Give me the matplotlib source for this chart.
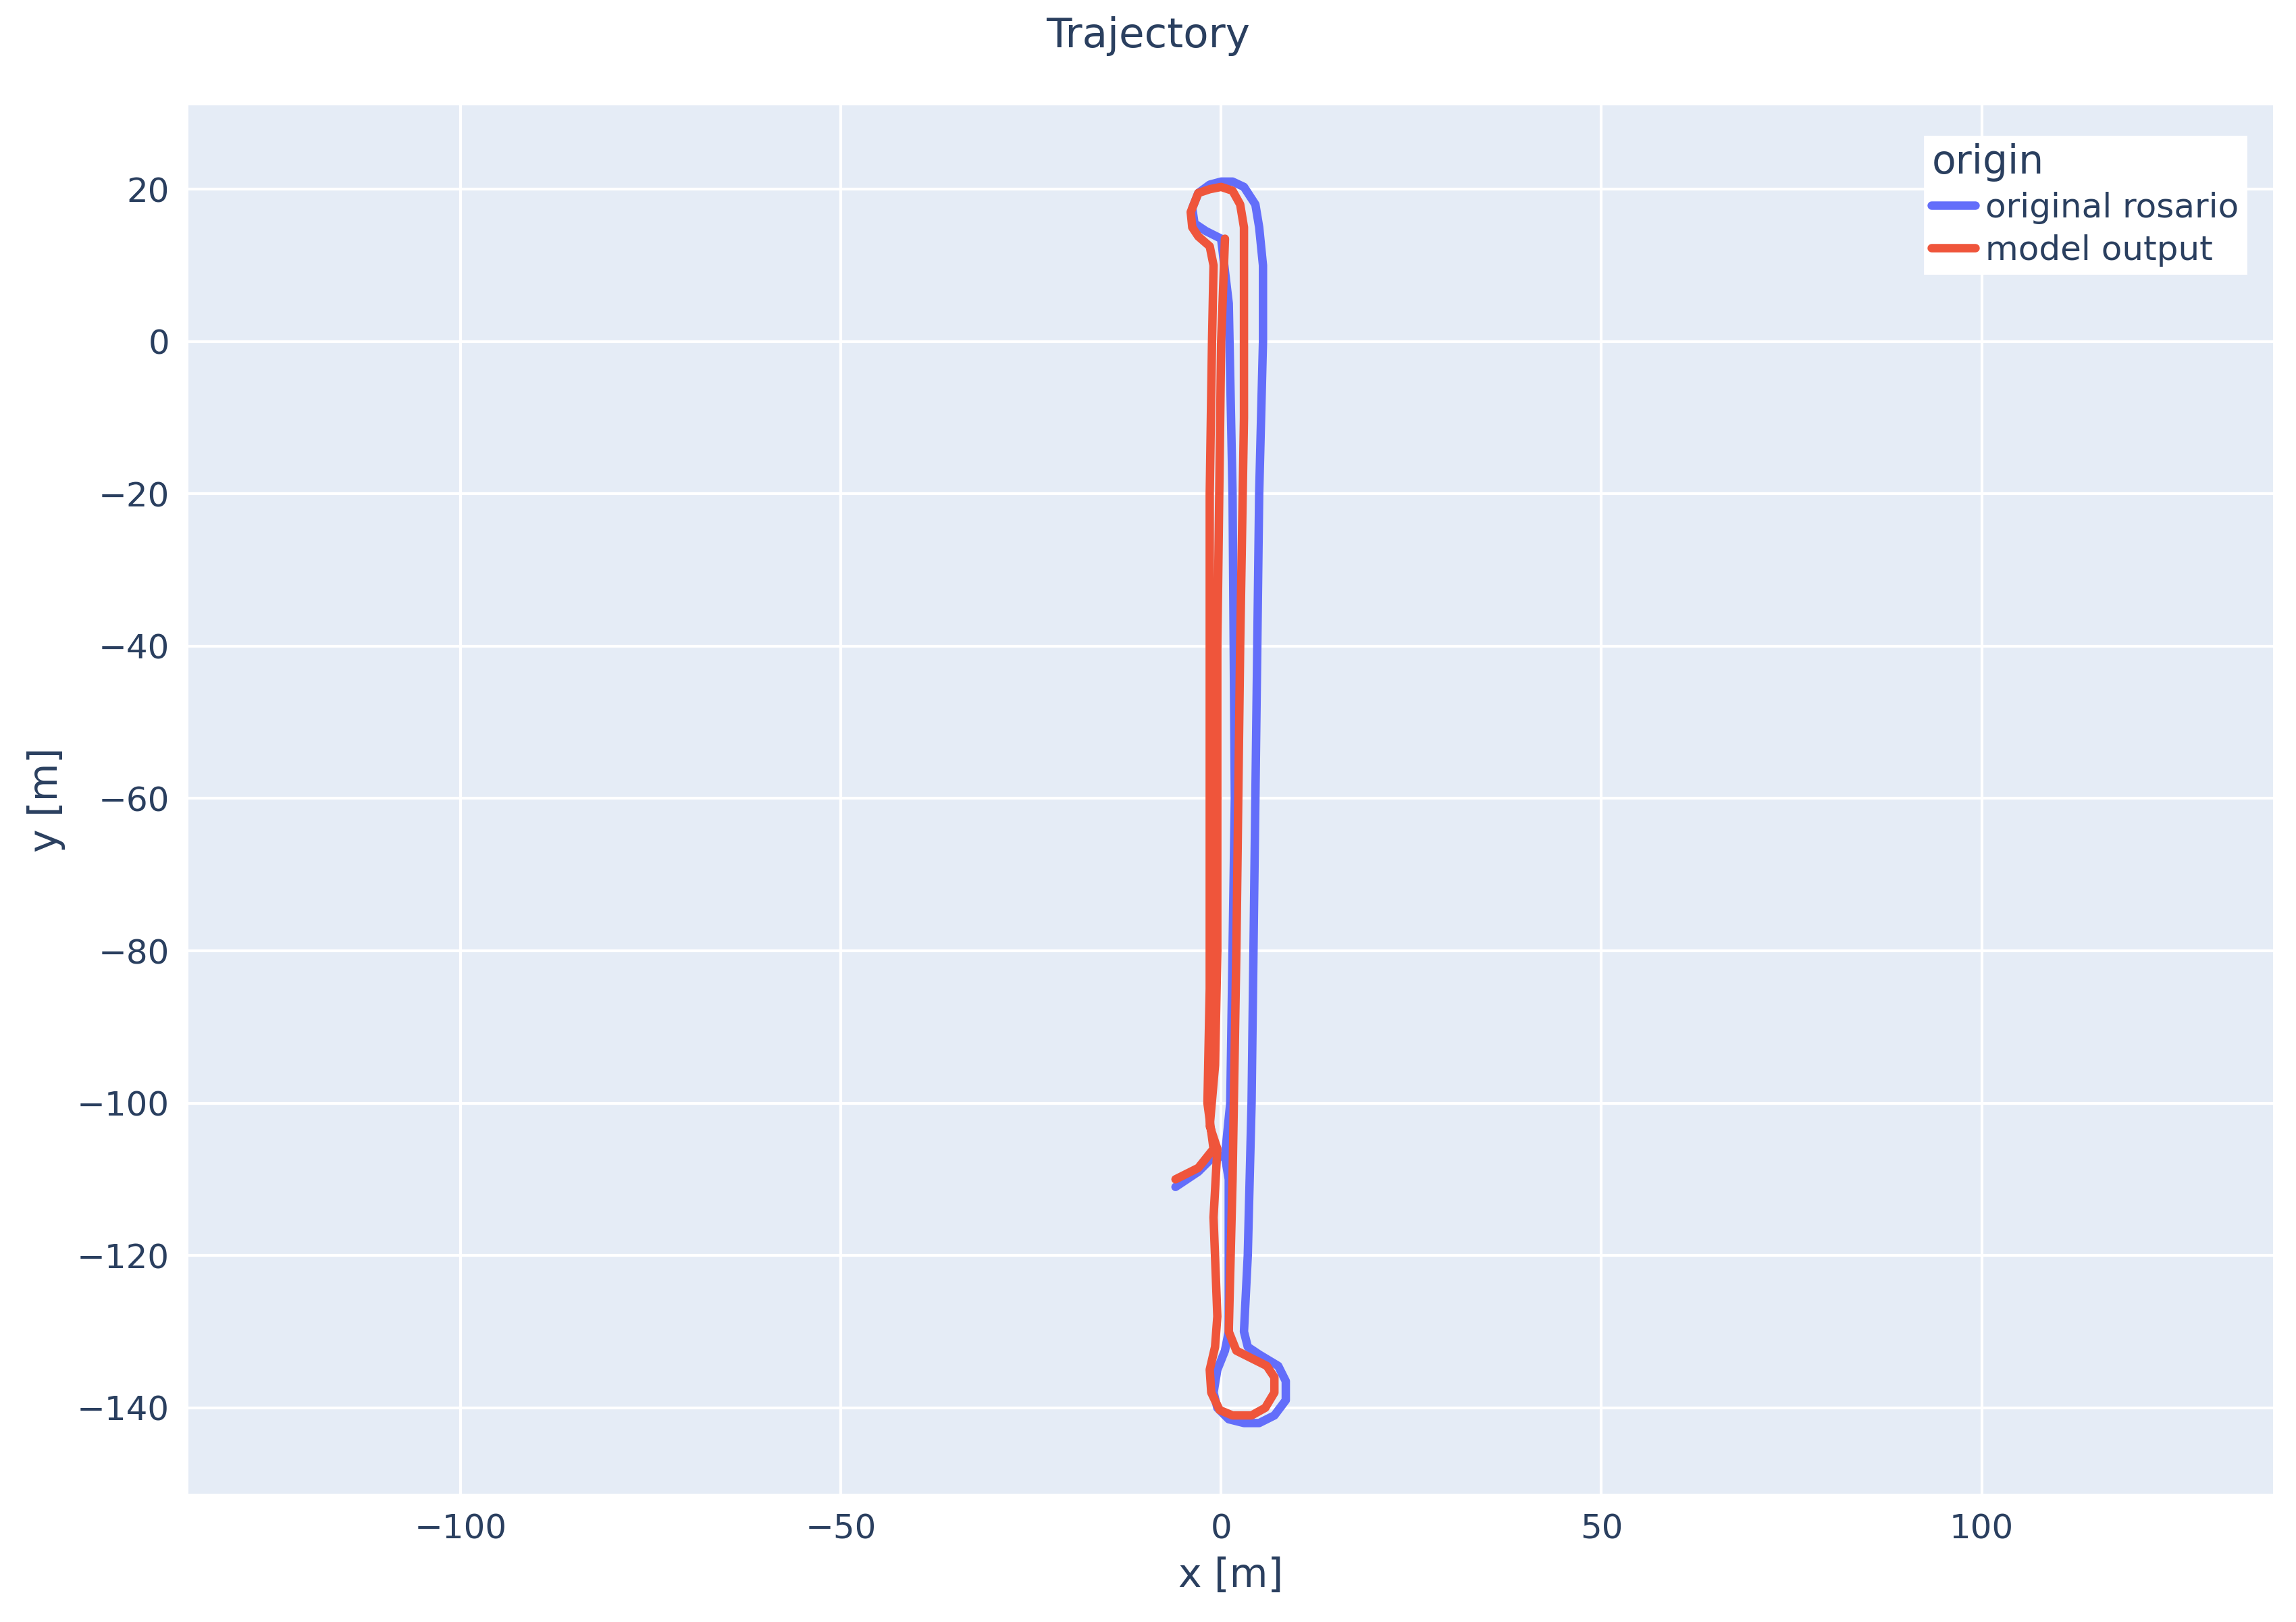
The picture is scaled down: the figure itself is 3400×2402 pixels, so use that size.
import matplotlib.pyplot as plt

# trajektoria (x, y w metrach)
rosario_x = [-6, -3, -1, 0.5, 1, 1, 0.5, -0.5, -1, -0.5, 1, 3, 5, 7, 8.5, 8.5, 7.5, 5, 3.5, 3, 3.5, 4, 4.5, 5, 5.5, 5.5, 5, 4.5, 3, 1.5, 0, -1.5, -3, -3.8, -3.5, -2, 0, 1, 1.5, 1.8, 1.2, 0.5]
rosario_y = [-111, -109, -107, -107, -110, -130, -132.5, -135, -138, -140, -141.5, -142, -142, -141, -139, -136.5, -134.5, -133, -132, -130, -120, -100, -60, -20, 0, 10, 15, 18, 20.3, 21, 21, 20.6, 19.5, 17.5, 15.5, 14.5, 13.5, 5, -20, -60, -100, -107]
model_x = [0.5, 0, -0.5, -0.5, -0.8, -1.5, -0.5, -1, -0.5, -0.8, -1.5, -1.3, -0.2, 1.5, 4, 5.8, 7, 7, 6, 4, 2, 1, 1.5, 2, 2.5, 3, 3, 3, 2.5, 1.5, 0, -1.5, -3, -4, -3.8, -3, -1.5, -1, -1.2, -1.5, -1.5, -1.5, -1.8, -1, -3, -6]
model_y = [13.5, 0, -40, -80, -95, -103, -106, -115, -128, -132, -135, -138, -140.3, -141, -141, -140, -138, -136, -134.5, -133.5, -132.5, -130, -110, -80, -40, -10, 10, 15, 18, 19.8, 20.3, 20, 19.5, 17, 15, 13.8, 12.5, 10, 0, -20, -60, -85, -100, -106, -108.5, -110]

bg = '#E5ECF6'
txt = '#2a3f5f'

fig = plt.figure(figsize=(17, 12.01), dpi=200)
ax = fig.add_axes([0.082, 0.079, 0.908, 0.856])
ax.set_facecolor(bg)
ax.plot(rosario_x, rosario_y, color='#636efa', lw=4.5, label='original rosario',
        solid_joinstyle='round', solid_capstyle='round')
ax.plot(model_x, model_y, color='#EF553B', lw=4.5, label='model output',
        solid_joinstyle='round', solid_capstyle='round')
ax.set_xlim(-135.8, 138.3)
ax.set_ylim(-151.3, 31)
ax.set_xticks([-100, -50, 0, 50, 100])
ax.set_yticks([-140, -120, -100, -80, -60, -40, -20, 0, 20])
ax.set_xticklabels(['\u2212100', '\u221250', '0', '50', '100'])
ax.set_yticklabels(['\u2212140', '\u2212120', '\u2212100', '\u221280', '\u221260', '\u221240', '\u221220', '0', '20'])
ax.grid(color='white', lw=1.5)
ax.set_axisbelow(True)
for s in ax.spines.values():
    s.set_visible(False)
ax.tick_params(length=0, labelsize=18, colors=txt, pad=10)
ax.set_xlabel('x [m]', fontsize=21, color=txt, labelpad=6)
ax.set_ylabel('y [m]', fontsize=21, color=txt, labelpad=6)
fig.suptitle('Trajectory', fontsize=22, color=txt, y=0.99)
leg = ax.legend(title='origin', loc='upper right', fontsize=18, title_fontsize=21, frameon=True,
                fancybox=False, framealpha=1, edgecolor='white', handlelength=1.3,
                borderpad=0.2, labelspacing=0.3, handletextpad=0.3, bbox_to_anchor=(0.995, 0.99))
leg._legend_box.align = 'left'
for t in leg.get_texts():
    t.set_color(txt)
leg.get_title().set_color(txt)
fig.savefig('out.png')
